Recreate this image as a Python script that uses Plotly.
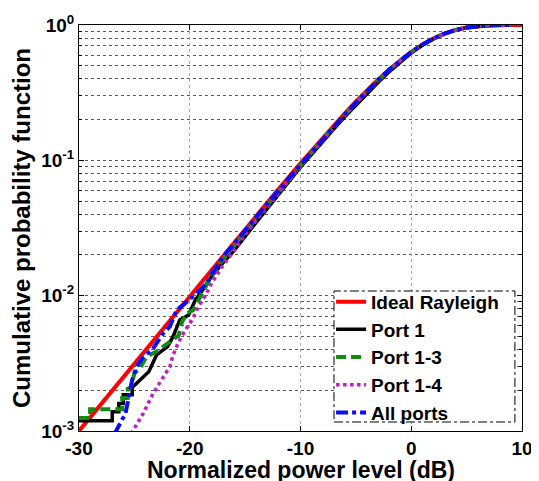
import plotly.graph_objects as go

# ---------------- data ----------------
rayleigh_x = [-30, -28, -26, -24, -22, -20, -18, -16, -14, -12, -10, -8, -6, -5, -4, -3, -2, -1,
              0, 1, 2, 3, 4, 5, 6, 7, 8, 9, 10]
rayleigh_y = [0.0010, 0.00158, 0.00251, 0.00397, 0.00629, 0.00995, 0.0157, 0.0248, 0.0390, 0.0612,
              0.0952, 0.1466, 0.2222, 0.2711, 0.3284, 0.3942, 0.4679, 0.5481, 0.6321, 0.7161,
              0.7951, 0.8640, 0.9189, 0.9577, 0.9813, 0.9933, 0.9982, 0.99965, 0.99995]

port1_x = [-30, -27.0, -27.0, -26.4, -26.4, -26.0, -26.0, -25.2, -25.2, -24.5, -23.7, -23.0, -22.0,
           -21.5, -20.9, -20.1, -19.5, -19.0, -18.0, -17, -16, -15, -14, -13, -12, -11, -10, -9,
           -8, -7, -6, -5, -4, -3, -2, -1, 0, 1, 2, 3, 4, 5, 6, 7, 8, 9]
port1_y = [0.00119, 0.00119, 0.00139, 0.00139, 0.00160, 0.00160, 0.00185, 0.00185, 0.0021, 0.00238,
           0.00274, 0.00365, 0.0042, 0.0050, 0.0066, 0.0072, 0.0093, 0.0105, 0.0140, 0.0175,
           0.0215, 0.0274, 0.0345, 0.0435, 0.0555, 0.0705, 0.0890, 0.1110, 0.1375, 0.1700,
           0.2095, 0.2560, 0.3110, 0.3760, 0.4510, 0.5340, 0.6215, 0.7085, 0.7895, 0.8605,
           0.9165, 0.9562, 0.9806, 0.9930, 0.9981, 0.9997]

port13_x = [-30, -29.0, -29.0, -26.1, -26.1, -25.6, -25.6, -25.3, -25.0, -24.5, -23.9, -23.0, -22.4,
            -21.5, -21.0, -20.7, -20.25, -19.7, -19.05, -18.6, -18.0, -17, -16, -15, -14, -13,
            -12, -11, -10, -9, -8, -7, -6, -5, -4, -3, -2, -1, 0, 1, 2, 3, 4, 5, 6, 7, 8, 9]
port13_y = [0.00125, 0.00125, 0.00145, 0.00145, 0.00175, 0.00175, 0.00205, 0.0021, 0.00267,
            0.0029, 0.00355, 0.00386, 0.0042, 0.00471, 0.0051, 0.0064, 0.0074, 0.0078, 0.0098,
            0.0117, 0.0142, 0.0185, 0.0235, 0.0296, 0.0372, 0.0468, 0.0588, 0.0737, 0.0922,
            0.1150, 0.1430, 0.1770, 0.2180, 0.2670, 0.3245, 0.3910, 0.4655, 0.5465, 0.6310,
            0.7155, 0.7945, 0.8635, 0.9185, 0.9575, 0.9812, 0.9932, 0.9982, 0.99965]

port14_x = [-25.3, -24.2, -23.3, -22.4, -21.8, -21.5, -21.0, -20.4, -19.8, -19.2, -18.6, -18.0,
            -17, -16, -15, -14, -13, -12, -11, -10, -9, -8, -7, -6, -5, -4, -3, -2, -1,
            0, 1, 2, 3, 4, 5, 6, 7, 8, 9]
port14_y = [0.00095, 0.00135, 0.0019, 0.00252, 0.00299, 0.00365, 0.00457, 0.00557, 0.0066,
            0.0083, 0.0100, 0.0125, 0.0168, 0.0215, 0.0282, 0.0360, 0.0456, 0.0575, 0.0722,
            0.0905, 0.1130, 0.1405, 0.1745, 0.2155, 0.2650, 0.3225, 0.3890, 0.4640, 0.5450,
            0.6300, 0.7150, 0.7940, 0.8632, 0.9183, 0.9574, 0.9811, 0.9932, 0.9982, 0.99965]

allports_x = [-26.8, -25.8, -25.5, -25.2, -24.8, -24.2, -23.4, -23.0, -22.4, -21.8, -21.2, -20.4,
              -19.7, -19.05, -18.45, -18.0, -17, -16, -15, -14, -13, -12, -11, -10, -9, -8, -7,
              -6, -5, -4, -3, -2, -1, 0, 1, 2, 3, 4, 5, 6, 7, 8, 9]
allports_y = [0.00095, 0.00135, 0.0018, 0.00238, 0.00299, 0.00355, 0.00397, 0.00445, 0.00527,
              0.0059, 0.0078, 0.0088, 0.0098, 0.0110, 0.0124, 0.0145, 0.0193, 0.0243, 0.0303,
              0.0380, 0.0476, 0.0597, 0.0746, 0.0930, 0.1158, 0.1437, 0.1777, 0.2190, 0.2680,
              0.3255, 0.3920, 0.4665, 0.5470, 0.6315, 0.7158, 0.7948, 0.8638, 0.9188, 0.9576,
              0.9813, 0.9933, 0.9982, 0.99965]

series_names = ["Ideal Rayleigh", "Port 1", "Port 1-3", "Port 1-4", "All ports"]
x_title = "Normalized power level (dB)"
y_title = "Cumulative probability function"

x_tick_vals = [-30, -20, -10, 0, 10]
x_tick_text = ["-30", "-20", "-10", "0", "10"]
y_tick_vals = [0.001, 0.01, 0.1, 1]
y_tick_text = ["10<sup>-3</sup>", "10<sup>-2</sup>", "10<sup>-1</sup>", "10<sup>0</sup>"]
y_minor_vals = [m * d for d in (0.001, 0.01, 0.1) for m in range(2, 10)]

FONT = "Arial, 'Liberation Sans', sans-serif"

styles = [
    dict(color="#ff0000", width=4.0, dash="solid"),
    dict(color="#000000", width=3.5, dash="solid"),
    dict(color="#138a13", width=4.0, dash="10px,5px"),
    dict(color="#c41cc4", width=3.5, dash="dot"),
    dict(color="#0a0aff", width=4.0, dash="dashdot"),
]
xs = [rayleigh_x, port1_x, port13_x, port14_x, allports_x]
ys = [rayleigh_y, port1_y, port13_y, port14_y, allports_y]

fig = go.Figure()
for name, x, y, st in zip(series_names, xs, ys, styles):
    fig.add_trace(go.Scatter(x=x, y=y, mode="lines", name=name, line=st))

# the page body adds an 8px offset, so the figure is 8px smaller in each direction
fig.update_layout(
    width=531, height=473,
    margin=dict(l=71, r=17, t=17, b=50, pad=0),
    paper_bgcolor="white", plot_bgcolor="white",
    font=dict(family=FONT, color="black", size=19, weight="bold"),
    showlegend=True,
    legend=dict(x=0.569, y=0.365, xanchor="left", yanchor="top",
                bgcolor="rgba(0,0,0,0)", borderwidth=0, itemwidth=30,
                font=dict(family=FONT, size=19, color="black", weight="bold")),
    xaxis=dict(range=[-30, 10], tickmode="array", tickvals=x_tick_vals, ticktext=x_tick_text,
               ticks="inside", ticklen=5, tickcolor="black", showline=True, linecolor="black",
               linewidth=1, mirror="ticks", zeroline=False, automargin=False,
               showgrid=True, gridcolor="#a8a8a8", griddash="dot", gridwidth=1,
               tickfont=dict(family=FONT, size=19, weight="bold")),
    yaxis=dict(type="log", range=[-3, 0], tickmode="array", tickvals=y_tick_vals,
               ticktext=y_tick_text, ticks="inside", ticklen=5, tickcolor="black",
               showline=True, linecolor="black", linewidth=1, mirror="ticks", zeroline=False,
               automargin=False,
               showgrid=True, gridcolor="#5a5a5a", griddash="dot", gridwidth=1,
               tickfont=dict(family=FONT, size=19, weight="bold"),
               minor=dict(tickmode="array", tickvals=y_minor_vals, ticks="inside", ticklen=3,
                          tickcolor="black", showgrid=True, gridcolor="#5a5a5a",
                          griddash="dot", gridwidth=1),
               title=dict(text=y_title, standoff=4,
                          font=dict(family=FONT, size=24, weight="bold"))),
    annotations=[dict(text=x_title, xref="paper", yref="paper", x=0.5, y=0,
                      xanchor="center", yanchor="middle", yshift=-39, showarrow=False,
                      font=dict(family=FONT, size=23, color="black", weight="bold"))],
    shapes=[dict(type="rect", xref="paper", yref="paper", x0=0.5756, x1=0.984,
                 y0=0.0222, y1=0.3448, fillcolor="white", layer="above",
                 line=dict(color="black", width=1, dash="dashdot"))],
)

fig.write_html("out.html")
